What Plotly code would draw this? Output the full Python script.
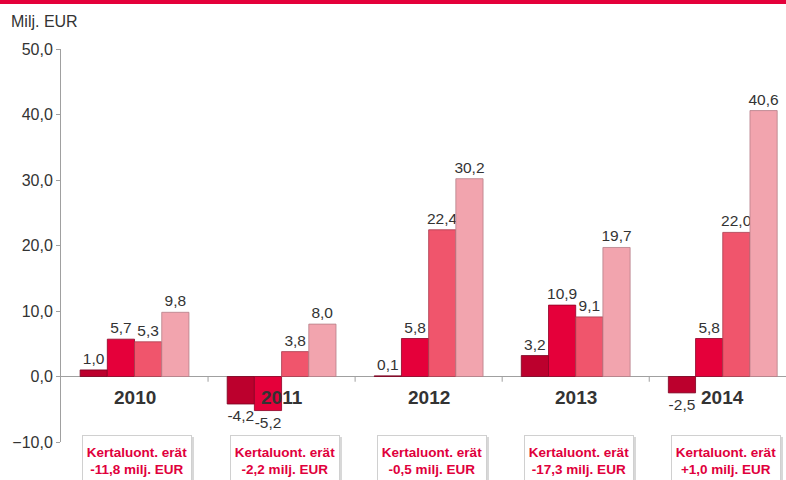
import plotly.graph_objects as go

years = ["2010", "2011", "2012", "2013", "2014"]
series1 = [1.0, -4.2, 0.1, 3.2, -2.5]
series2 = [5.7, -5.2, 5.8, 10.9, 5.8]
series3 = [5.3, 3.8, 22.4, 9.1, 22.0]
series4 = [9.8, 8.0, 30.2, 19.7, 40.6]
box_values = ["-11,8", "-2,2", "-0,5", "-17,3", "+1,0"]
y_ticks = [-10, 0, 10, 20, 30, 40, 50]

colors = ["#BC002D", "#E5003A", "#F0556C", "#F2A4AE"]
lines = ["#7A0020", "#8E0025", "#A83A4C", "#B57F88"]

FONT = "Liberation Sans, Arial, sans-serif"
xs = list(range(len(years)))

fig = go.Figure()
for i, vals in enumerate([series1, series2, series3, series4]):
    fig.add_trace(go.Bar(
        x=xs, y=vals,
        marker=dict(color=colors[i], line=dict(color=lines[i], width=0.8)),
        texttemplate="%{y:.1f}", textposition="outside", constraintext="none",
        textfont=dict(size=15.5, color="#333333", family=FONT),
        cliponaxis=False, showlegend=False,
    ))

for i, yr in enumerate(years):
    fig.add_annotation(x=xs[i], y=-3.2, xref="x", yref="y", text=f"<b>{yr}</b>",
                       showarrow=False, font=dict(size=19, color="#333333", family=FONT))
    # shadow
    fig.add_annotation(x=xs[i] + 0.02, y=-9.0, xref="x", yref="y", yanchor="top",
                       text=" ", showarrow=False, width=104, height=52, borderpad=2,
                       xshift=3, yshift=-2, bgcolor="#D8D8D8", borderwidth=0)
    fig.add_annotation(x=xs[i] + 0.02, y=-9.0, xref="x", yref="y", yanchor="top",
                       text=f"<b>Kertaluont. erät<br>{box_values[i]} milj. EUR</b>",
                       showarrow=False, width=104, height=46, borderpad=2,
                       bordercolor="#D0D0D0", borderwidth=1, bgcolor="white",
                       font=dict(size=13.5, color="#E0003C", family=FONT))

shapes = []
for i in range(len(years) - 1):
    shapes.append(dict(type="line", xref="x", yref="y", x0=i + 0.5, x1=i + 0.5,
                       y0=0, y1=-0.8, line=dict(color="#A0A0A0", width=1)))
shapes.append(dict(type="rect", xref="paper", yref="paper", x0=-0.2, x1=1.1,
                   y0=1.1145, y1=1.13, fillcolor="#E4003A", line=dict(width=0)))
fig.update_layout(shapes=shapes)

fig.add_annotation(x=-0.072, y=1.096, xref="paper", yref="paper", xanchor="left",
                   text="Milj. EUR", showarrow=False,
                   font=dict(size=16, color="#333333", family=FONT))

fig.update_layout(
    width=786, height=480,
    margin=dict(l=61, r=0, t=49, b=38),
    paper_bgcolor="white", plot_bgcolor="white",
    barmode="group", bargap=0.26, bargroupgap=0,
    separators=", ",
    font=dict(family=FONT, color="#333333"),
    xaxis=dict(range=[-0.5, 4.43], showticklabels=False, showgrid=False,
               zeroline=False, showline=False, ticks=""),
    yaxis=dict(range=[-10, 50], tickvals=y_ticks, tickformat=".1f",
               showgrid=False, zeroline=True, zerolinecolor="#A0A0A0", zerolinewidth=1,
               showline=True, linecolor="#A0A0A0", linewidth=1,
               ticks="outside", ticklen=4, tickcolor="#A0A0A0",
               tickfont=dict(size=16, color="#333333", family=FONT)),
)

fig.write_html("out.html", config={"displayModeBar": False},
               post_script="document.body.style.margin='0';document.body.style.overflow='hidden';")
